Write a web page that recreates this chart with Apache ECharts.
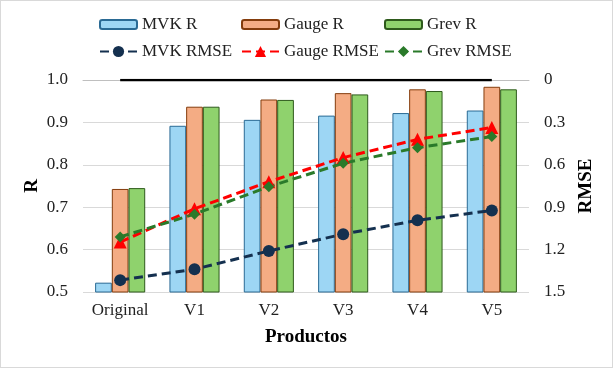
<!DOCTYPE html>
<html><head><meta charset="utf-8">
<script src="https://cdn.jsdelivr.net/npm/echarts@6/dist/echarts.min.js"></script>
<style>html,body{margin:0;padding:0;background:#fff}#c{width:613px;height:368px;box-sizing:border-box;border:1px solid #d9d9d9}</style>
</head><body><div id="c"></div>
<script>
const categories = ['Original','V1','V2','V3','V4','V5'];
const mvkR   = [0.522, 0.892, 0.906, 0.916, 0.922, 0.928];
const gaugeR = [0.743, 0.937, 0.954, 0.969, 0.978, 0.984];
const grevR  = [0.745, 0.937, 0.953, 0.966, 0.974, 0.978];
const mvkRMSE   = [1.416, 1.339, 1.21, 1.091, 0.993, 0.923];
const gaugeRMSE = [1.147, 0.911, 0.72, 0.549, 0.42, 0.336];
const grevRMSE  = [1.11, 0.949, 0.755, 0.589, 0.479, 0.40];
const refLine   = [1, 1, 1, 1, 1, 1];
const rTicks = [0.5, 1.0, 0.1];
const rmseTicks = [0, 1.5, 0.3];

const font = 'Liberation Serif';
const chart = echarts.init(document.getElementById('c'));
const txt = {fontFamily: font, fontSize: 17, color: '#222'};
function lg(name, left, top, w, h) {
  return {data: [name], left: left, top: top, itemWidth: w, itemHeight: h, itemGap: 5,
    textStyle: Object.assign({}, txt, {fontSize: 17}), padding: 0, selectedMode: false};
}
chart.setOption({
  animation: false,
  backgroundColor: '#fff',
  legend: [
    lg('MVK R', 98, 15, 37, 9), lg('Gauge R', 240, 15, 37, 9), lg('Grev R', 383, 15, 37, 9),
    lg('MVK RMSE', 98, 42, 37, 14), lg('Gauge RMSE', 240, 42, 37, 14), lg('Grev RMSE', 383, 42, 37, 14)
  ],
  grid: {left: 82, right: 83, top: 79, bottom: 75},
  xAxis: {
    type: 'category', data: categories,
    name: 'Productos', nameLocation: 'middle', nameGap: 36,
    nameTextStyle: {fontFamily: font, fontSize: 19, fontWeight: 'bold', color: '#000'},
    axisLine: {lineStyle: {color: '#bfbfbf'}}, axisTick: {show: false},
    axisLabel: Object.assign({}, txt, {margin: 10})
  },
  yAxis: [{
    type: 'value', min: rTicks[0], max: rTicks[1], interval: rTicks[2],
    name: 'R', nameLocation: 'middle', nameGap: 41, nameMoveOverlap: false,
    nameTextStyle: {fontFamily: font, fontSize: 19, fontWeight: 'bold', color: '#000'},
    axisLine: {show: false}, axisTick: {show: false},
    axisLabel: Object.assign({}, txt, {margin: 15, formatter: v => v.toFixed(1)}),
    splitLine: {lineStyle: {color: '#d9d9d9'}}
  }, {
    type: 'value', min: rmseTicks[0], max: rmseTicks[1], interval: rmseTicks[2], inverse: true,
    name: 'RMSE', nameLocation: 'middle', nameGap: 44,
    nameTextStyle: {fontFamily: font, fontSize: 19, fontWeight: 'bold', color: '#000'},
    axisLine: {show: false}, axisTick: {show: false},
    axisLabel: Object.assign({}, txt, {margin: 15, formatter: v => (Math.round(v*10)/10).toString()}),
    splitLine: {show: false}
  }],
  series: [
    {name: 'MVK R', type: 'bar', data: mvkR, barWidth: 16.7, barGap: '0%',
     itemStyle: {color: '#9dd6f4', borderColor: '#2a6a94', borderWidth: 1}},
    {name: 'Gauge R', type: 'bar', data: gaugeR, barWidth: 16.7, barGap: '0%',
     itemStyle: {color: '#f4ac84', borderColor: '#843c0c', borderWidth: 1}},
    {name: 'Grev R', type: 'bar', data: grevR, barWidth: 16.7, barGap: '0%',
     itemStyle: {color: '#8fd26d', borderColor: '#2e5a1c', borderWidth: 1}},
    {name: 'ref', type: 'line', data: refLine, symbol: 'none', z: 1,
     lineStyle: {color: '#000', width: 2.5}},
    {name: 'MVK RMSE', type: 'line', yAxisIndex: 1, data: mvkRMSE, symbol: 'circle', symbolSize: 12,
     itemStyle: {color: '#14304f'}, lineStyle: {color: '#14304f', width: 3, type: [9, 5]}, z: 5},
    {name: 'Gauge RMSE', type: 'line', yAxisIndex: 1, data: gaugeRMSE, symbol: 'triangle', symbolSize: 13,
     itemStyle: {color: '#ff0000'}, lineStyle: {color: '#ff0000', width: 3, type: [9, 5]}, z: 5},
    {name: 'Grev RMSE', type: 'line', yAxisIndex: 1, data: grevRMSE, symbol: 'diamond', symbolSize: 11,
     itemStyle: {color: '#2a7a2a'}, lineStyle: {color: '#2a7a2a', width: 3, type: [9, 5]}, z: 5}
  ]
});
</script></body></html>
